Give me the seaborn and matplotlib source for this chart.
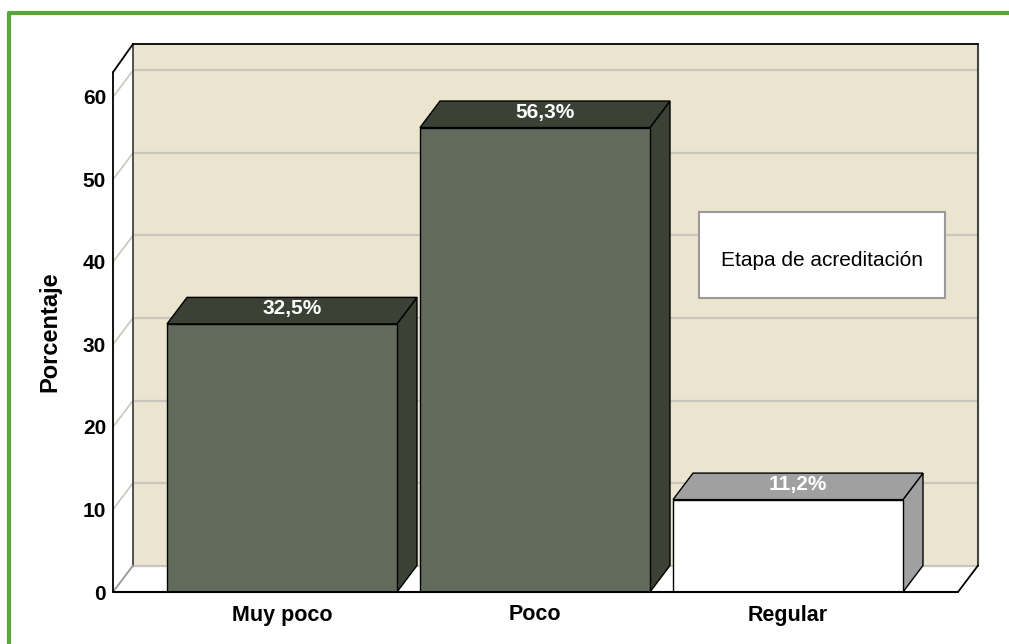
import matplotlib
matplotlib.use("Agg")
import matplotlib.pyplot as plt
from matplotlib.patches import Polygon, Rectangle
from matplotlib.lines import Line2D
import seaborn as sns
import pandas as pd

# ---- data ----
categories = ["Muy poco", "Poco", "Regular"]
percentages = [32.5, 56.3, 11.2]
value_labels = ["32,5%", "56,3%", "11,2%"]
y_ticks = [0, 10, 20, 30, 40, 50, 60]
y_label = "Porcentaje"
legend_text = "Etapa de acreditación"

front_colors = ["#626e58", "#626e58", "#ffffff"]
shade_colors = ["#3b4135", "#3b4135", "#a0a0a0"]

sns.set_theme(style="white")
FONT = ["Liberation Sans", "DejaVu Sans"]
plt.rcParams["font.family"] = FONT
plt.rcParams["text.color"] = "black"

W, H = 1009, 644
fig = plt.figure(figsize=(W / 100, H / 100), dpi=100)
fig.patch.set_facecolor("white")

# axes covering the full 3D box region (front axis at x=113, floor at y=592)
ax_left, ax_right, ax_bottom, ax_top = 113, 978, 592, 44
ax = fig.add_axes([ax_left / W, (H - ax_bottom) / H,
                   (ax_right - ax_left) / W, (ax_bottom - ax_top) / H])
ax.set_facecolor("none")

df = pd.DataFrame({"cat": categories, "pct": percentages})
sns.barplot(data=df, x="cat", y="pct", hue="cat", palette=front_colors,
            width=0.909, edgecolor="black", linewidth=1.0, legend=False,
            ax=ax, zorder=4)

px_per_cat = 253.0
px_per_unit = 8.25
xmin = -0.668
xmax = xmin + (ax_right - ax_left) / px_per_cat
ymax = (ax_bottom - ax_top) / px_per_unit
ax.set_xlim(xmin, xmax)
ax.set_ylim(0, ymax)

dx = 20 / px_per_cat
dy = 26.5 / px_per_unit
ytop_front = 63.0

wall_color = "#ebe4cf"
grid_color = "#c9c7bd"

# back wall
ax.add_patch(Polygon([(xmin + dx, dy), (xmax, dy), (xmax, ymax), (xmin + dx, ymax)],
                     closed=True, facecolor=wall_color, edgecolor="none", zorder=0))
# left side wall (white)
ax.add_patch(Polygon([(xmin, 0), (xmin + dx, dy), (xmin + dx, ymax), (xmin, ytop_front)],
                     closed=True, facecolor="white", edgecolor="none", zorder=0))
# floor
ax.add_patch(Polygon([(xmin, 0), (xmax - dx, 0), (xmax, dy), (xmin + dx, dy)],
                     closed=True, facecolor="white", edgecolor="none", zorder=1))

# gridlines
for v in y_ticks:
    ax.plot([xmin + dx, xmax], [v + dy, v + dy], color=grid_color, lw=1.6, zorder=1,
            solid_capstyle="butt")
    ax.plot([xmin, xmin + dx], [v, v + dy], color=grid_color, lw=1.2, zorder=1)
ax.plot([xmin, xmin + dx], [0, dy], color="#9a9a9a", lw=1.2, zorder=2)

# frame lines
ax.plot([xmin, xmin], [0, ytop_front], color="black", lw=1.3, zorder=5, clip_on=False)
ax.plot([xmin, xmin + dx], [ytop_front, ymax], color="black", lw=1.3, zorder=5, clip_on=False)
ax.plot([xmin + dx, xmax], [ymax, ymax], color="black", lw=1.3, zorder=5, clip_on=False)
ax.plot([xmin + dx, xmin + dx], [dy, ymax], color="#444444", lw=1.3, zorder=1, clip_on=False)
ax.plot([xmax, xmax], [dy, ymax], color="#444444", lw=1.5, zorder=1, clip_on=False)
ax.plot([xmin, xmax - dx], [0, 0], color="black", lw=1.5, zorder=5, clip_on=False)
ax.plot([xmax - dx, xmax], [0, dy], color="black", lw=1.3, zorder=5, clip_on=False)

# 3D faces of bars
bars = [p for p in ax.patches if isinstance(p, Rectangle) and p.get_zorder() == 4]
for i, b in enumerate(bars):
    x0 = b.get_x()
    w = b.get_width()
    h = b.get_height()
    x1 = x0 + w
    top = Polygon([(x0, h), (x1, h), (x1 + dx, h + dy), (x0 + dx, h + dy)], closed=True,
                  facecolor=shade_colors[i], edgecolor="black", lw=1.0, zorder=3)
    side = Polygon([(x1, 0), (x1 + dx, dy), (x1 + dx, h + dy), (x1, h)], closed=True,
                   facecolor=shade_colors[i], edgecolor="black", lw=1.0, zorder=3)
    ax.add_patch(side)
    ax.add_patch(top)
    ax.text(x0 + w / 2 + dx / 2, h + dy / 2 + 0.2, value_labels[i], color="white",
            fontsize=15, fontweight="bold", ha="center", va="center", zorder=6)

# ticks
ax.set_yticks(y_ticks)
ax.set_yticklabels([str(t) for t in y_ticks], fontsize=15, fontweight="bold")
ax.set_xticks(range(len(categories)))
ax.set_xticklabels(categories, fontsize=15.5, fontweight="bold")
ax.tick_params(axis="y", length=0, pad=5, colors="black")
ax.tick_params(axis="x", length=0, pad=9, colors="black")
ax.set_xlabel("")
ax.set_ylabel("")
for s in ax.spines.values():
    s.set_visible(False)

# y label
fig.text(50 / W, 1 - 332 / H, y_label, rotation=90, ha="center", va="center",
         fontsize=17, fontweight="bold", color="black")

# legend-like box
lx0, lx1, ly0, ly1 = 699, 945, 212, 298
fig.patches.append(Rectangle((lx0 / W, 1 - ly1 / H), (lx1 - lx0) / W, (ly1 - ly0) / H,
                             transform=fig.transFigure, facecolor="white",
                             edgecolor="#9a9a9a", lw=1.5, zorder=10))
fig.text(822 / W, 1 - 261 / H, legend_text, ha="center", va="center", fontsize=15,
         color="black", zorder=11)

# green outer border
green = "#5ca53c"
fig.add_artist(Line2D([9 / W, 9 / W], [0, 1 - 13 / H], transform=fig.transFigure,
                      color=green, lw=3))
fig.add_artist(Line2D([9 / W, 1], [1 - 13 / H, 1 - 13 / H], transform=fig.transFigure,
                      color=green, lw=3))

fig.savefig("out.png", dpi=100)
